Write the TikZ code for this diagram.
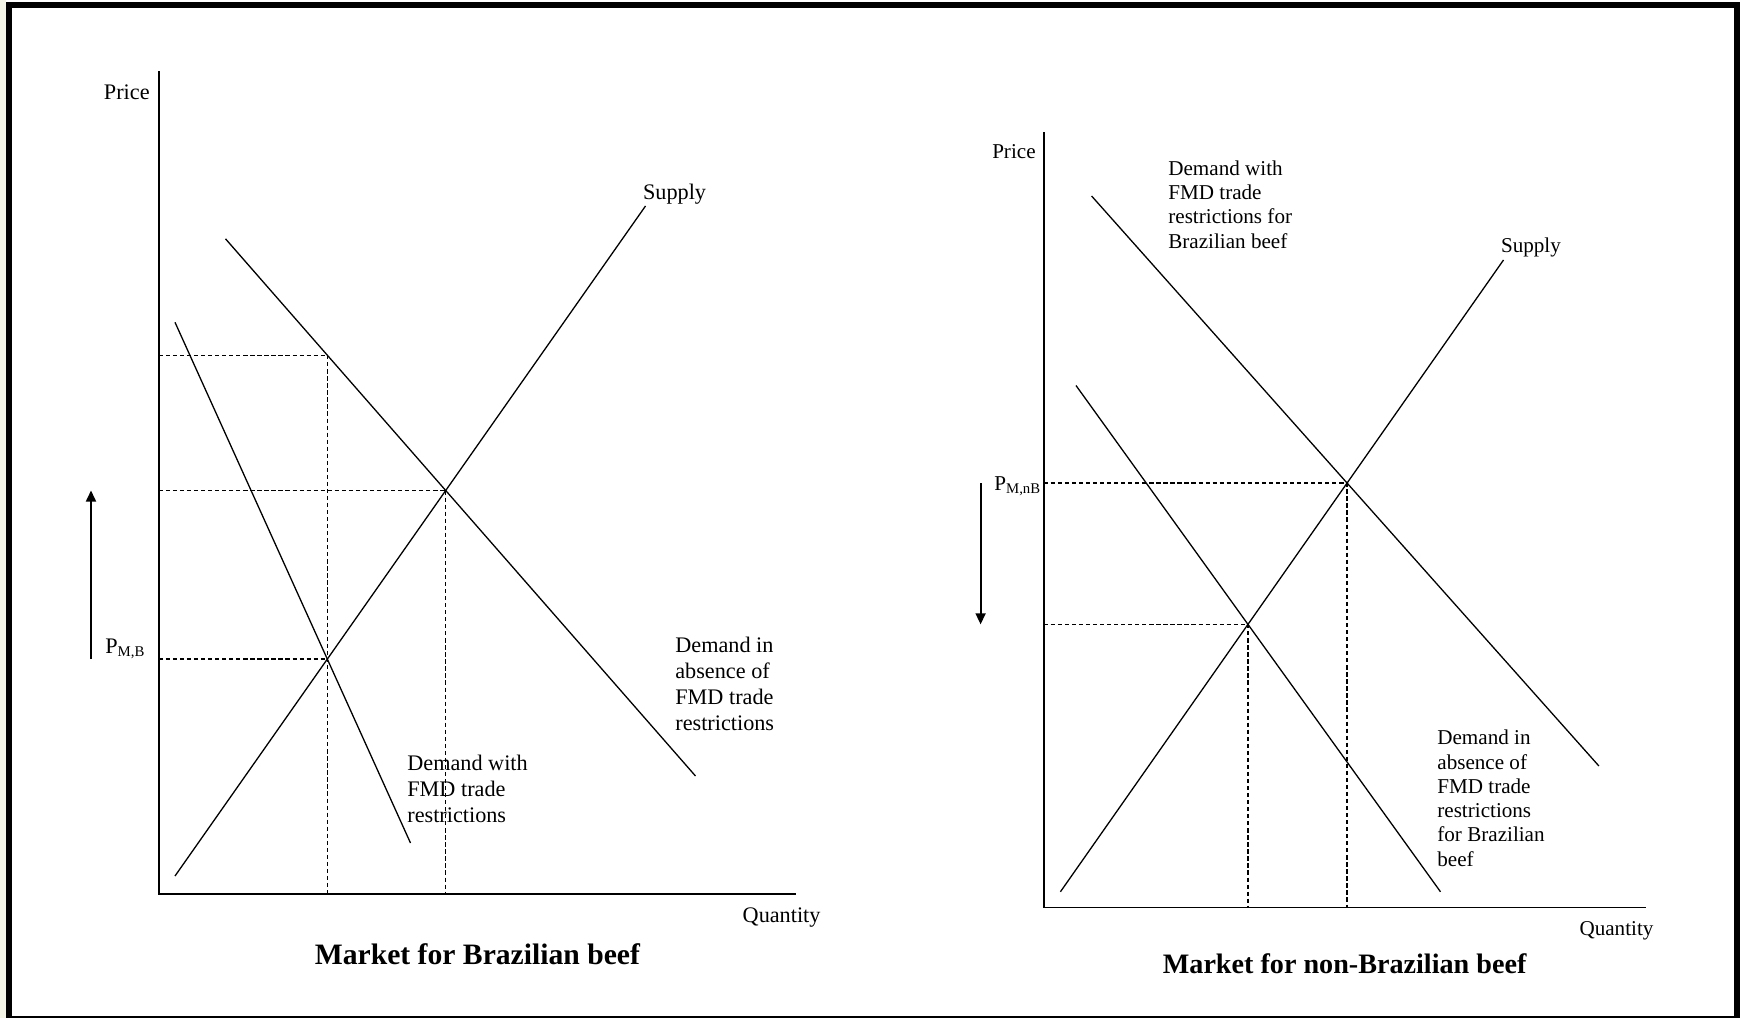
\documentclass[tikz,border=0pt]{standalone}
\usepackage{fontspec}
\setmainfont{Liberation Serif}
\usetikzlibrary{arrows.meta}
\definecolor{paleedge}{RGB}{244,244,230}

\begin{document}
\begin{tikzpicture}[x=0.54pt,y=-0.54pt]
	\tikzstyle{curve}=[draw=black,line width=0.7pt]
	\tikzstyle{axisline}=[draw=black,line width=0.9pt]
	\tikzstyle{guide}=[draw=black,line width=0.7pt,dash pattern=on 2.3pt off 1.5pt]
	\tikzstyle{pricearrow}=[draw=black,line width=1pt,-{Triangle[length=6pt,width=5.4pt]}]
	\tikzstyle{lbl}=[inner sep=0pt,font=\fontsize{12}{14}\selectfont]
	\tikzstyle{rlbl}=[inner sep=0pt,font=\fontsize{11.4}{13.1}\selectfont]
	\tikzstyle{note}=[align=left,anchor=north west]
	\tikzstyle{paneltitle}=[inner sep=0pt,font=\bfseries\fontsize{16}{19}\selectfont]
	
	% Frame of the figure
	\useasboundingbox (0,0) rectangle (1741,1018);
	\fill[paleedge] (0,0) rectangle (6,1018);
	\draw[line width=3pt] (9,5) rectangle (1737,1019);
	
	% Market for Brazilian beef
	\coordinate (O1) at (158.8,893.8);
	\coordinate (Y1) at (158.8,71);
	\coordinate (X1) at (796,893.8);
	\coordinate (S1a) at (175,876);
	\coordinate (S1b) at (645.5,206);
	\coordinate (D1a) at (225.5,238.8);
	\coordinate (D1b) at (695.5,776);
	\coordinate (R1a) at (175,322.3);
	\coordinate (R1b) at (410.5,843);
	
	\draw[axisline] (Y1) -- (O1) -- (X1);
	\draw[curve] (S1a) -- (S1b);
	\draw[curve] (D1a) -- (D1b);
	\draw[curve] (R1a) -- (R1b);
	
	% Equilibrium points and the dashed guides to the axes
	\coordinate (E1) at (intersection of S1a--S1b and D1a--D1b);
	\coordinate (E2) at (intersection of S1a--S1b and R1a--R1b);
	\coordinate (E2up) at (E2 |- Y1);
	\coordinate (Q1) at (intersection of E2--E2up and D1a--D1b);
	
	\foreach \pt in {Q1,E1,E2}
	\draw[guide] (O1 |- \pt) -- (\pt);
	\foreach \pt in {Q1,E1}
	\draw[guide] (\pt) -- (\pt |- O1);
	
	% Price rises
	\coordinate (A1) at (91,0);
	\coordinate (A1s) at (A1 |- E2);
	\coordinate (A1e) at (A1 |- E1);
	\draw[pricearrow] (A1s) -- (A1e);
	
	% Annotate the left market
	\node[lbl,anchor=east] (price1) at (150,92) {Price};
	\node[lbl] (qty1) at (781.6,917.3) {Quantity};
	\node[lbl,anchor=west] (sup1) at (642.7,194) {Supply};
	\node[lbl,anchor=base west] (pmb) at (105,653) {P\textsubscript{M,B}};
	\node[lbl,note] (dfree1) at (675,637.2) {Demand in\\absence of\\FMD trade\\restrictions};
	\node[lbl,note] (dfmd1) at (407,754.9) {Demand with\\FMD trade\\restrictions};
	\node[paneltitle] (title1) at (477.4,953.8) {Market for Brazilian beef};
	
	% Market for non-Brazilian beef
	\coordinate (O2) at (1043.7,907.5);
	\coordinate (Y2) at (1043.7,132);
	\coordinate (X2) at (1646,907.5);
	\coordinate (S2a) at (1060.4,891.8);
	\coordinate (S2b) at (1503.5,260);
	\coordinate (D2a) at (1091.6,196);
	\coordinate (D2b) at (1598.9,766);
	\coordinate (F2a) at (1076,385.5);
	\coordinate (F2b) at (1440.5,891.8);
	
	\draw[axisline] (Y2) -- (O2) -- (X2);
	\draw[curve] (S2a) -- (S2b);
	\draw[curve] (D2a) -- (D2b);
	\draw[curve] (F2a) -- (F2b);
	
	\coordinate (E3) at (intersection of S2a--S2b and D2a--D2b);
	\coordinate (E4) at (intersection of S2a--S2b and F2a--F2b);
	
	\foreach \pt in {E3,E4}
	\draw[guide] (O2 |- \pt) -- (\pt) -- (\pt |- O2);
	
	% Price falls
	\coordinate (A2) at (980.6,0);
	\coordinate (A2s) at (A2 |- E3);
	\coordinate (A2e) at (A2 |- E4);
	\draw[pricearrow] (A2s) -- (A2e);
	
	% Annotate the right market
	\node[rlbl,anchor=east] (price2) at (1036,152) {Price};
	\node[rlbl] (qty2) at (1616.5,930.5) {Quantity};
	\node[rlbl,anchor=west] (sup2) at (1500.7,247.5) {Supply};
	\node[rlbl,anchor=base west] (pmnb) at (994,490.7) {P\textsubscript{M,nB}};
	\node[rlbl,note] (dfmd2) at (1168,160.3) {Demand with\\FMD trade\\restrictions for\\Brazilian beef};
	\node[rlbl,note] (dfree2) at (1437,729.8) {Demand in\\absence of\\FMD trade\\restrictions\\for Brazilian\\beef};
	\node[paneltitle,font=\bfseries\fontsize{15.2}{18}\selectfont] (title2) at (1344.6,963.7) {Market for non-Brazilian beef};
	
\end{tikzpicture}
\end{document}
